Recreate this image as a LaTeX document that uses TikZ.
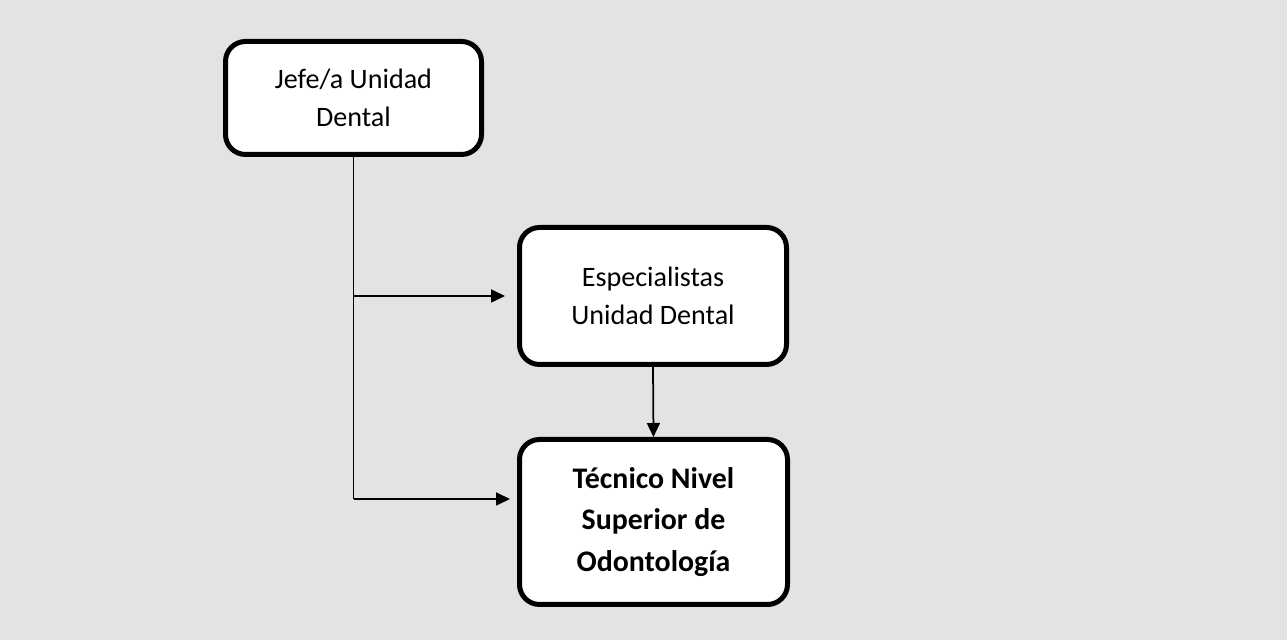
\documentclass[tikz,border=0pt]{standalone}
\usepackage{fontspec}
\setmainfont{Carlito}
\usepackage{tikz}
\usetikzlibrary{arrows.meta,positioning,calc}

\begin{document}
\begin{tikzpicture}[-,thick,
    unit box/.style={rectangle,rounded corners=0.4cm,draw,fill=white,line width=0.1cm,
                     align=center,font=\fontsize{16}{21.6}\selectfont},
    link/.style={line width=0.035cm},
    arrow link/.style={link,-{Triangle[width=0.26cm,length=0.28cm]}}]
\useasboundingbox (0,0) rectangle (25.74,12.8);
\fill[black!11] (0,0) rectangle (25.74,12.8);

\node[unit box,minimum width=5.12cm,minimum height=2.26cm] (jefe) at (7.07,10.84) {Jefe/a Unidad\\Dental};
\node[unit box,minimum width=5.34cm,minimum height=2.74cm] (esp) at (13.06,6.88) {Especialistas\\Unidad Dental};
\node[unit box,minimum width=5.36cm,minimum height=3.3cm,font=\fontsize{17}{23.6}\selectfont\bfseries] (tec) at (13.07,2.36) {Técnico Nivel\\Superior de\\Odontología};

\coordinate (branchA) at (jefe.south |- esp.west);
\coordinate (branchB) at ($(jefe.south |- tec.west)+(0,0.46)$);

\draw[link] (jefe.south) -- (branchB);
\draw[arrow link,shorten >=0.24cm] (branchA) -- (esp.west);
\draw[arrow link,shorten >=0.14cm] (branchB) -- (branchB -| tec.west);
\draw[arrow link] (esp.south) -- (tec.north);

\end{tikzpicture}
\end{document}
